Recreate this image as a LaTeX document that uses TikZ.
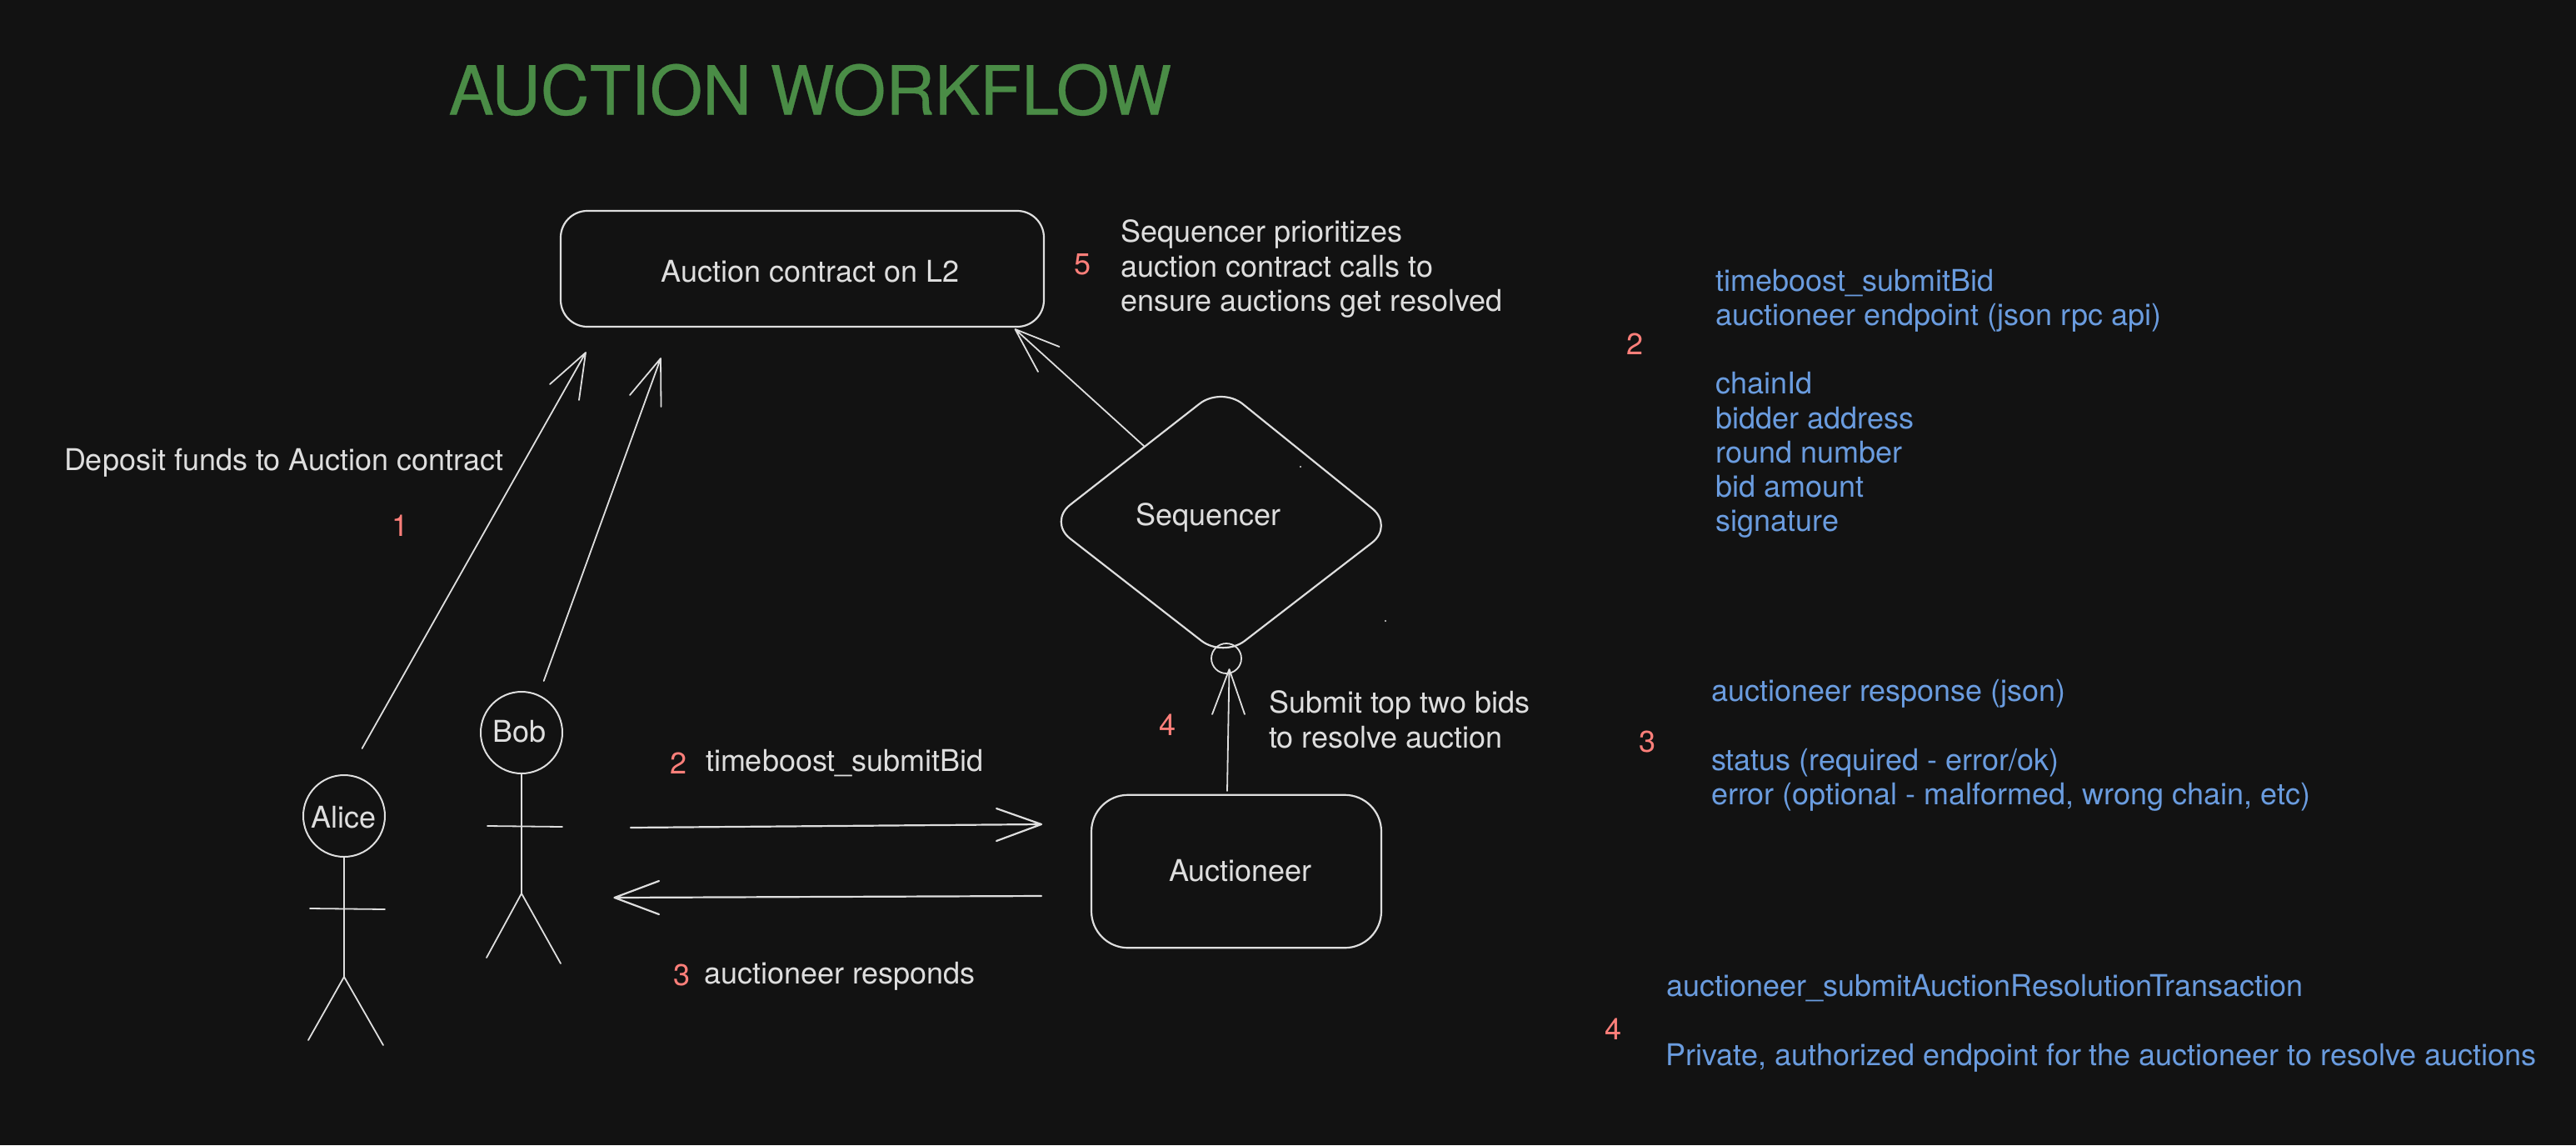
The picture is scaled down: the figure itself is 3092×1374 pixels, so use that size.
\documentclass[tikz,border=0pt]{standalone}
\usepackage{fontspec}
\setmainfont{TeX Gyre Heros}
\newfontfamily\ttlfont[FakeBold=0.4]{TeX Gyre Heros}
\definecolor{bgc}{HTML}{121212}
\definecolor{ink}{HTML}{DEDEDE}
\definecolor{greenc}{HTML}{4A8C46}
\definecolor{redc}{HTML}{FF7F7A}
\definecolor{bluec}{HTML}{6A9CDF}
\newcommand{\fs}[1]{\fontsize{#1}{#1}\selectfont}
\tikzset{
 lab/.style={anchor=base west,inner sep=0pt,outer sep=0pt,text=ink,font=\fs{36}},
 blue/.style={lab,text=bluec},
 num/.style={lab,text=redc},
 ttl/.style={lab,text=greenc,font=\ttlfont\fs{81.4}},
 ln/.style={draw=ink,line width=2.2pt,line cap=round,line join=round},
 thin/.style={draw=ink,line width=1.8pt,line cap=round,line join=round},
 hd/.style={circle,draw=ink,line width=2pt,minimum size=98pt,inner sep=0pt,outer sep=0pt},
 boxs/.style={rectangle,draw=ink,line width=2.2pt,inner sep=0pt,outer sep=0pt}
}
\begin{document}
\begin{tikzpicture}[x=1pt,y=-1pt]
\fill[bgc] (0,0) rectangle (3092,1374);
\useasboundingbox (0,0) rectangle (3092,1374);
\node[ttl] (title) at (538.5,137.5) {AUCTION WORKFLOW};
% boxes
\node[boxs,rounded corners=32pt,minimum width=580pt,minimum height=139pt] (contract) at (963,322.5) {};
\node[boxs,rounded corners=44pt,minimum width=348pt,minimum height=183.5pt] (auct) at (1484,1045.5) {};
\node[lab] (tcontract) at (793.5,338.5) {Auction contract on L2};
\node[lab] (tauct) at (1403,1057) {Auctioneer};
% sequencer diamond
\draw[ln,rounded corners=33pt] (1466,464) -- (1673,631) -- (1468,789) -- (1258.5,626) -- cycle;
\node[lab] (tseq) at (1363,630) {Sequencer};
\coordinate (sqa) at (1374,536);
\coordinate (sqb) at (1218.5,395);
\coordinate (sqw1) at (1271.5,416);
\coordinate (sqw2) at (1246,446);
\draw[thin] (sqa) -- (sqb) (sqw1) -- (sqb) -- (sqw2);
\node[circle,draw=ink,line width=1.8pt,minimum size=36pt,inner sep=0pt] (ring) at (1472,790) {};
\coordinate (ua) at (1473,949);
\coordinate (ub) at (1475.5,803);
\coordinate (uw1) at (1455,857);
\coordinate (uw2) at (1494,857);
\draw[thin] (ua) -- (ub) (uw1) -- (ub) -- (uw2);
\fill[ink] (1561,560) circle (1.2pt) (1663,745) circle (1.2pt);
% Alice
\node[hd] (alice) at (413,979) {};
\node[lab] (talice) at (373,993) {Alice};
\coordinate (ah) at (413,1172);
\draw[thin] (alice.south) -- (ah) (370,1248) -- (ah) -- (460,1254) (372,1090) -- (462,1091);
% Bob
\node[hd] (bob) at (626,879) {};
\node[lab] (tbob) at (591,890) {Bob};
\coordinate (bh) at (626,1072);
\draw[thin] (bob.south) -- (bh) (584,1149) -- (bh) -- (673,1156) (585,991) -- (675,992);
% funding arrows
\coordinate (as) at (434.6,898);
\coordinate (at) at (703,423);
\coordinate (aw1) at (660,461);
\coordinate (aw2) at (695,480);
\coordinate (bs) at (652.7,817);
\coordinate (bt) at (793,430);
\coordinate (bw1) at (756,474);
\coordinate (bw2) at (793.5,488);
\draw[thin] (as) -- (at) (aw1) -- (at) -- (aw2);
\draw[thin] (bs) -- (bt) (bw1) -- (bt) -- (bw2);
% bid arrows
\coordinate (rs) at (757,993);
\coordinate (rt) at (1250,989);
\coordinate (ls) at (1250,1075);
\coordinate (lt) at (737.5,1077);
\draw[ln] (rs) -- (rt) (1196,970) -- (rt) -- (1196,1009);
\draw[ln] (ls) -- (lt) (791,1057) -- (lt) -- (791,1097);
% labels
\node[lab] (dep) at (77,564.5) {Deposit funds to Auction contract};
\node[num] (n1) at (470,643) {1};
\node[num] (n2a) at (804,928) {2};
\node[lab] (sb) at (847,925) {timeboost\_submitBid};
\node[num] (n3a) at (808,1182) {3};
\node[lab] (resp) at (845,1180) {auctioneer responds};
\node[num] (n4a) at (1391,882) {4};
\node[lab] (s1) at (1523,855) {Submit top two bids};
\node[lab] (s2) at (1523,897) {to resolve auction};
\node[num] (n5) at (1289,329) {5};
\node[lab] (p1) at (1345,290) {Sequencer prioritizes};
\node[lab] (p2) at (1345,332) {auction contract calls to};
\node[lab] (p3) at (1345,373) {ensure auctions get resolved};
% right column
\node[num] (n2b) at (1952.5,425) {2};
\node[blue] (r1) at (2059.5,349) {timeboost\_submitBid};
\node[blue] (r2) at (2059.5,390) {auctioneer endpoint (json rpc api)};
\node[blue] (r3) at (2059.5,472.5) {chainId};
\node[blue] (r4) at (2059.5,514) {bidder address};
\node[blue] (r5) at (2059.5,555) {round number};
\node[blue] (r6) at (2059.5,596.5) {bid amount};
\node[blue] (r7) at (2059.5,637.5) {signature};
\node[num] (n3b) at (1967,902) {3};
\node[blue] (r8) at (2054,841.7) {auctioneer response (json)};
\node[blue] (r9) at (2054,924) {status (required - error/ok)};
\node[blue] (r10) at (2054,965) {error (optional - malformed, wrong chain, etc)};
\node[num] (n4b) at (1926.5,1247) {4};
\node[blue] (r11) at (2000,1195.7) {auctioneer\_submitAuctionResolutionTransaction};
\node[blue] (r12) at (1999.5,1278) {Private, authorized endpoint for the auctioneer to resolve auctions};
\end{tikzpicture}
\end{document}
